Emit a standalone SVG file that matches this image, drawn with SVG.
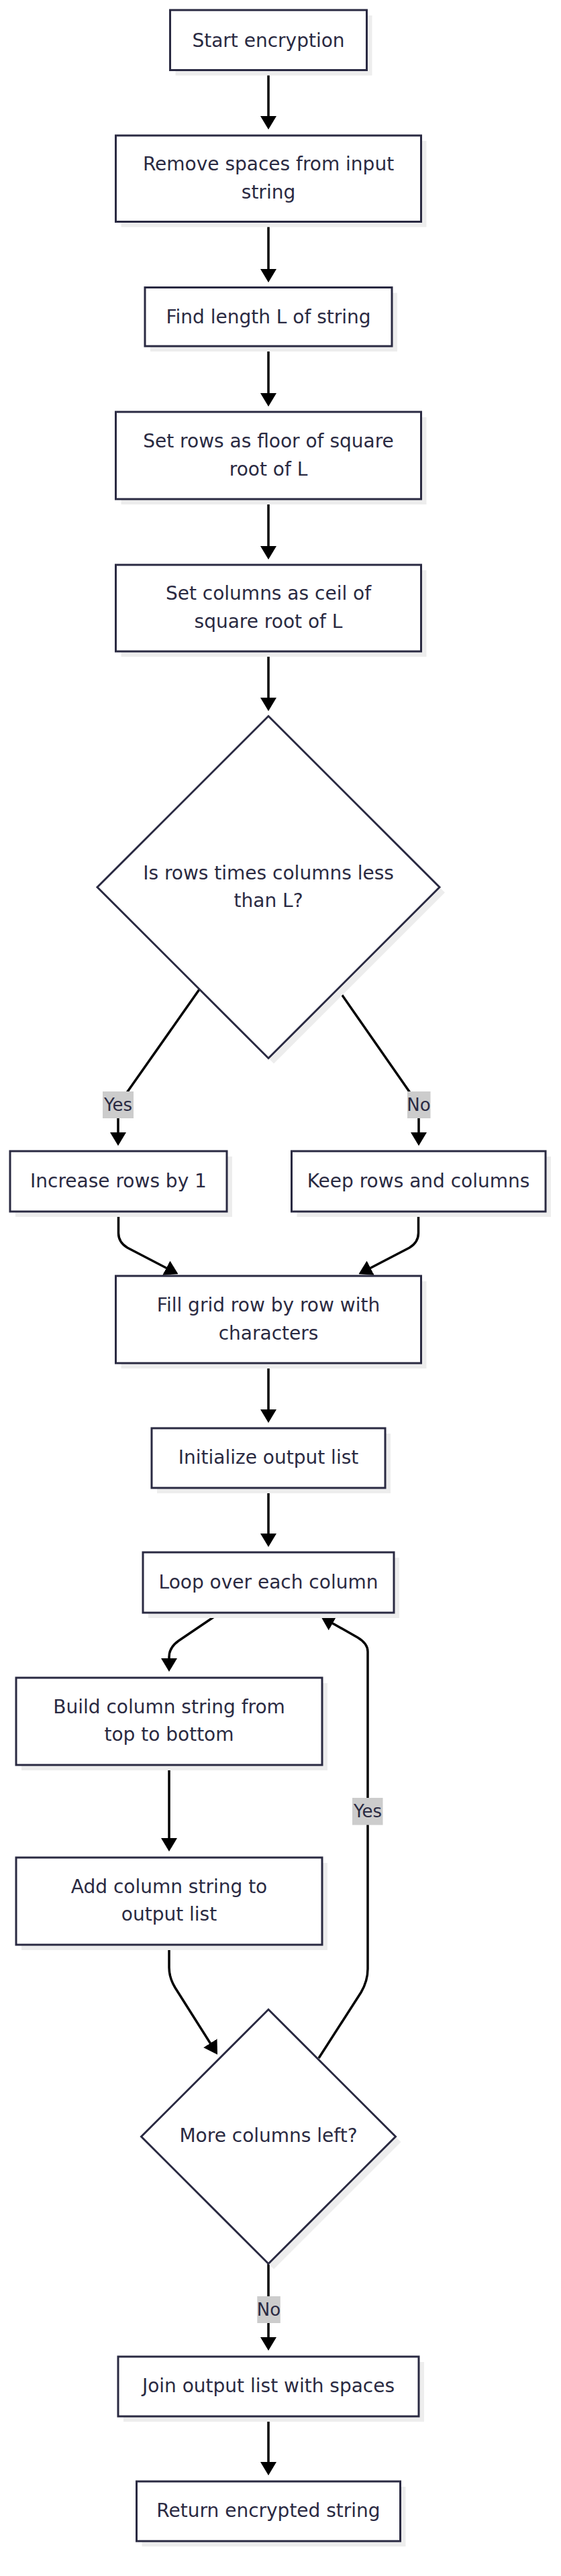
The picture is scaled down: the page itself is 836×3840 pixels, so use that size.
<svg xmlns="http://www.w3.org/2000/svg" width="836" height="3840" viewBox="0 0 836 3840">
<style>
.node rect.box, .node polygon.box { fill:#ffffff; stroke:#2a2a42; stroke-width:3; }
.shadow { fill:#ededed; stroke:none; }
.txt { font-family:"DejaVu Sans", Verdana, sans-serif; font-size:28px; fill:#2a2a42; text-anchor:middle; }
.edge { fill:none; stroke:#000000; stroke-width:3.5; marker-end:url(#arrow); }
.elabel rect { fill:#cccccc; stroke:none; }
.elabel text { font-family:"DejaVu Sans", Verdana, sans-serif; font-size:26px; fill:#2a2a42; text-anchor:middle; }
</style>
<defs>
<marker id="arrow" markerUnits="userSpaceOnUse" viewBox="0 0 20 24" markerWidth="20" markerHeight="24" refX="16" refY="12" orient="auto">
<path d="M0,0 L20,12 L0,24 z" fill="#000000"/>
</marker>
</defs>
<rect x="0" y="0" width="836" height="3840" fill="#ffffff"/>

<g id="connectors">
<path class="edge" d="M400,105 V189"/>
<path class="edge" d="M400,330.5 V417"/>
<path class="edge" d="M400,516 V602"/>
<path class="edge" d="M400,744 V830"/>
<path class="edge" d="M400,971 V1056"/>
<path class="edge" d="M297,1475 L186,1633 Q176,1648 176,1663 V1704"/>
<path class="edge" d="M504,1475 L614,1633 Q624,1648 624,1663 V1704"/>
<path class="edge" d="M176.5,1806 V1838 Q176.5,1852 190,1860 L262,1897.5"/>
<path class="edge" d="M623.5,1806 V1838 Q623.5,1852 610,1860 L538,1897.5"/>
<path class="edge" d="M400,2032 V2117"/>
<path class="edge" d="M400,2218 V2302"/>
<path class="edge" d="M328,2404 L266,2446 Q252,2456 252,2470 V2488"/>
<path class="edge" d="M252,2631 V2756"/>
<path class="edge" d="M252,2899 V2933 Q252,2948 261,2963 L321.9,3059.3"/>
<path class="edge" d="M475,3068 L538,2970 Q548,2953 548,2935 V2462 Q548,2450 533,2441 L481.8,2412"/>
<path class="edge" d="M400,3374.5 V3500"/>
<path class="edge" d="M400,3602 V3686"/>
<g class="elabel"><rect x="153" y="1627" width="46" height="40"/><text x="176" y="1656">Yes</text></g>
<g class="elabel"><rect x="607" y="1627" width="34.5" height="40"/><text x="624" y="1656">No</text></g>
<g class="elabel"><rect x="525" y="2680" width="45.5" height="40.5"/><text x="548" y="2709">Yes</text></g>
<g class="elabel"><rect x="383.3" y="3423" width="34.5" height="40"/><text x="400.5" y="3452">No</text></g>
</g>

<g id="start" class="node">
<rect class="shadow" x="261.5" y="23" width="293" height="89.5"/>
<rect class="box" x="253.5" y="15" width="293" height="89.5"/>
<text class="txt" x="400" y="69.5">Start encryption</text>
</g>
<g id="remove" class="node">
<rect class="shadow" x="180.5" y="210" width="455" height="128.5"/>
<rect class="box" x="172.5" y="202" width="455" height="128.5"/>
<text class="txt" x="400" y="254">Remove spaces from input</text>
<text class="txt" x="400" y="296">string</text>
</g>
<g id="findlen" class="node">
<rect class="shadow" x="224" y="436.5" width="368" height="87.5"/>
<rect class="box" x="216" y="428.5" width="368" height="87.5"/>
<text class="txt" x="400" y="482">Find length L of string</text>
</g>
<g id="setrows" class="node">
<rect class="shadow" x="180.5" y="622" width="455" height="130"/>
<rect class="box" x="172.5" y="614" width="455" height="130"/>
<text class="txt" x="400" y="667">Set rows as floor of square</text>
<text class="txt" x="400" y="709">root of L</text>
</g>
<g id="setcols" class="node">
<rect class="shadow" x="180.5" y="850" width="455" height="129"/>
<rect class="box" x="172.5" y="842" width="455" height="129"/>
<text class="txt" x="400" y="894">Set columns as ceil of</text>
<text class="txt" x="400" y="936">square root of L</text>
</g>
<g id="check" class="node">
<polygon class="shadow" points="408,1075.5 663,1330.5 408,1585.5 153,1330.5"/>
<polygon class="box" points="400,1067.5 655,1322.5 400,1577.5 145,1322.5"/>
<text class="txt" x="400" y="1310.5">Is rows times columns less</text>
<text class="txt" x="400" y="1351.5">than L?</text>
</g>
<g id="increase" class="node">
<rect class="shadow" x="23" y="1724" width="323" height="90"/>
<rect class="box" x="15" y="1716" width="323" height="90"/>
<text class="txt" x="176.5" y="1770">Increase rows by 1</text>
</g>
<g id="keep" class="node">
<rect class="shadow" x="442.5" y="1724" width="378.5" height="90"/>
<rect class="box" x="434.5" y="1716" width="378.5" height="90"/>
<text class="txt" x="623.5" y="1770">Keep rows and columns</text>
</g>
<g id="fill" class="node">
<rect class="shadow" x="180.5" y="1910" width="455" height="130"/>
<rect class="box" x="172.5" y="1902" width="455" height="130"/>
<text class="txt" x="400" y="1955">Fill grid row by row with</text>
<text class="txt" x="400" y="1997">characters</text>
</g>
<g id="init" class="node">
<rect class="shadow" x="234" y="2137" width="348" height="89"/>
<rect class="box" x="226" y="2129" width="348" height="89"/>
<text class="txt" x="400" y="2182">Initialize output list</text>
</g>
<g id="loop" class="node">
<rect class="shadow" x="221" y="2322" width="374" height="90"/>
<rect class="box" x="213" y="2314" width="374" height="90"/>
<text class="txt" x="400" y="2368">Loop over each column</text>
</g>
<g id="build" class="node">
<rect class="shadow" x="32" y="2509" width="456" height="130"/>
<rect class="box" x="24" y="2501" width="456" height="130"/>
<text class="txt" x="252" y="2554">Build column string from</text>
<text class="txt" x="252" y="2595">top to bottom</text>
</g>
<g id="add" class="node">
<rect class="shadow" x="32" y="2777" width="456" height="130"/>
<rect class="box" x="24" y="2769" width="456" height="130"/>
<text class="txt" x="252" y="2822">Add column string to</text>
<text class="txt" x="252" y="2863">output list</text>
</g>
<g id="more" class="node">
<polygon class="shadow" points="408,3003.5 597.5,3193 408,3382.5 218.5,3193"/>
<polygon class="box" points="400,2995.5 589.5,3185 400,3374.5 210.5,3185"/>
<text class="txt" x="400" y="3193">More columns left?</text>
</g>
<g id="join" class="node">
<rect class="shadow" x="184" y="3521" width="448" height="89"/>
<rect class="box" x="176" y="3513" width="448" height="89"/>
<text class="txt" x="400" y="3566">Join output list with spaces</text>
</g>
<g id="return" class="node">
<rect class="shadow" x="211.5" y="3707" width="393" height="89"/>
<rect class="box" x="203.5" y="3699" width="393" height="89"/>
<text class="txt" x="400" y="3752">Return encrypted string</text>
</g>
</svg>
